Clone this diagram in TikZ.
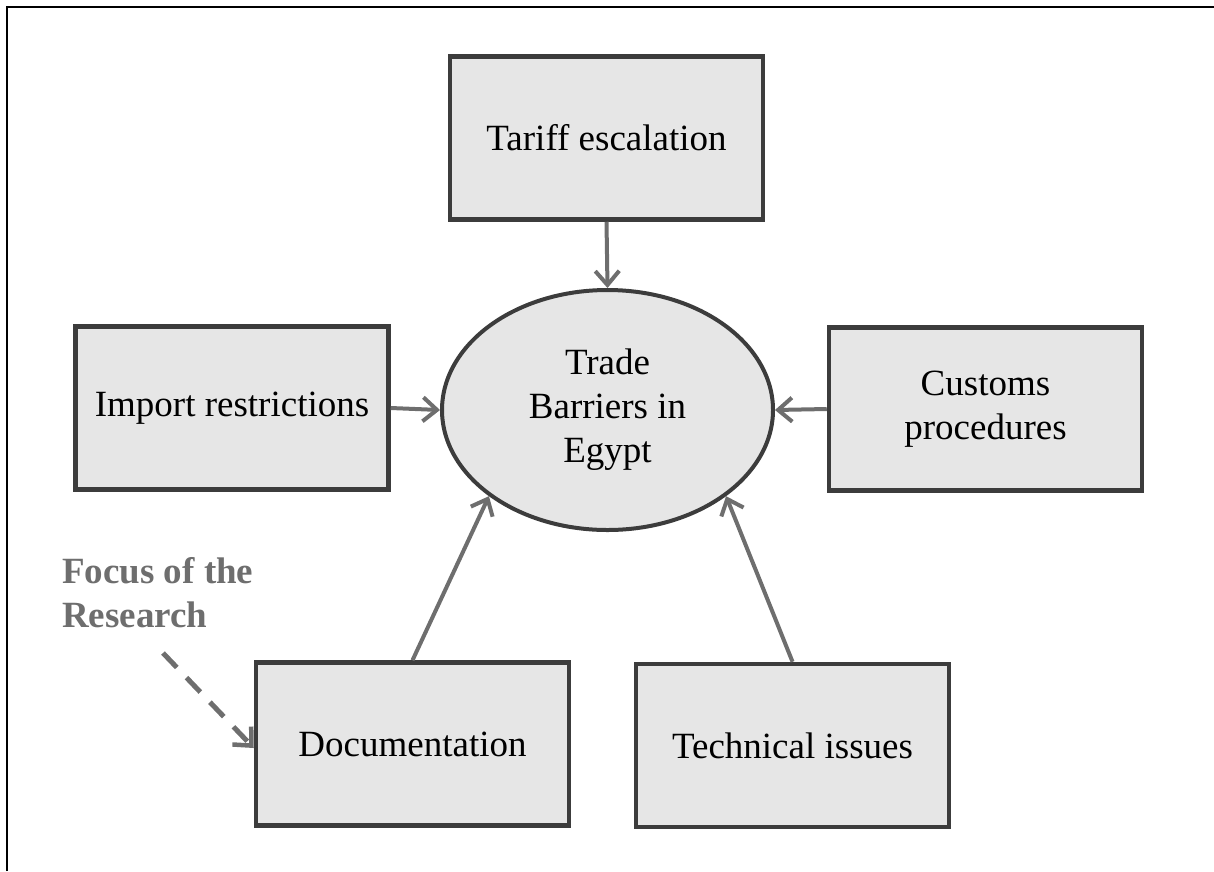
\documentclass[tikz,border=0pt]{standalone}
\usepackage{fontspec}
\setmainfont{Liberation Serif}
\usetikzlibrary{arrows.meta,shapes.geometric}
\definecolor{boxline}{HTML}{3C3C3C}
\definecolor{boxfill}{HTML}{E6E6E6}
\definecolor{arrowgray}{HTML}{6E6E6E}
\begin{document}
\begin{tikzpicture}[x=1pt,y=-1pt,
  box/.style={draw=boxline, fill=boxfill, line width=4.5pt, minimum width=313pt, minimum height=163pt, inner sep=0pt, align=center, font=\fontsize{37}{44}\selectfont},
  hub/.style={ellipse, draw=boxline, fill=boxfill, line width=4pt, minimum width=331pt, minimum height=240pt, inner sep=0pt, align=center, font=\fontsize{37}{44}\selectfont},
  conn/.style={draw=arrowgray, line width=4pt, -{Straight Barb[length=14pt,width=24pt,line width=4pt]}},
  focusarrow/.style={draw=arrowgray, line width=5pt, dash pattern=on 20pt off 14pt, -{Straight Barb[length=14pt,width=26pt,line width=4.5pt]}},
  focustext/.style={text=arrowgray, font=\fontsize{37}{44}\selectfont\bfseries, align=left, inner sep=0pt}
]
\useasboundingbox (0,0) rectangle (1214,871);
\draw[line width=2.5pt, black] (7,871) -- (7,7) -- (1214,7);

\node[hub] (hub) at (607.5,410) {Trade\\Barriers in\\Egypt};
\node[box] (tariff) at (606.5,138) {Tariff escalation};
\node[box] (import) at (232,408) {Import restrictions};
\node[box] (customs) at (985.5,409) {Customs\\procedures};
\node[box] (doc) at (412.5,744) {Documentation};
\node[box] (tech) at (792.5,745.5) {Technical issues};

\node[focustext, anchor=west] (focus) at (62,593) {Focus of the\\Research};
\coordinate (fstart) at (163,653);

\draw[conn] (tariff.south) -- (hub.north);
\draw[conn] (import.east) -- (hub.west);
\draw[conn] (customs.west) -- (hub.east);
\draw[conn] (doc.north) -- (hub.216);
\draw[conn] (tech.north) -- (hub.-36);
\draw[focusarrow] (fstart) -- ([yshift=-4pt]doc.west);
\end{tikzpicture}
\end{document}
